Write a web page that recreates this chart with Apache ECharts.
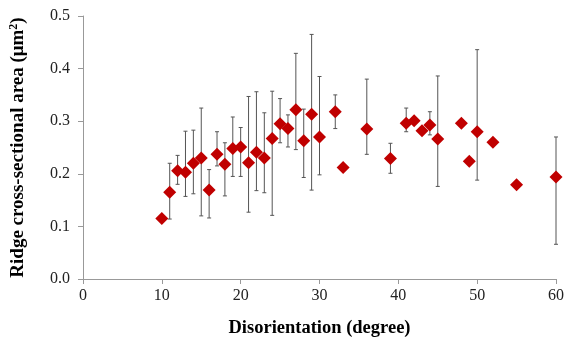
<!DOCTYPE html>
<html><head><meta charset="utf-8">
<script src="https://cdn.jsdelivr.net/npm/echarts@6/dist/echarts.min.js"></script>
<style>html,body{margin:0;padding:0;background:#fff}#c{width:567px;height:343px}</style>
</head><body><div id="c"></div>
<script>
const xVals = [10,11,12,13,14,15,16,17,18,19,20,21,22,23,24,25,26,27,28,29,30,32,33,36,39,41,42,43,44,45,48,49,50,52,55,60];
const yVals = [0.115,0.165,0.206,0.203,0.220,0.230,0.169,0.237,0.218,0.248,0.251,0.221,0.241,0.230,0.267,0.295,0.286,0.322,0.263,0.313,0.270,0.318,0.212,0.285,0.229,0.296,0.301,0.282,0.293,0.266,0.296,0.224,0.280,0.260,0.179,0.194];
// error bars: [x, low, high]
const errX =    [11,12,13,14,15,16,17,18,19,20,21,22,23,24,25,26,27,28,29,30,32,36,39,41,44,45,50,60];
const errLow =  [0.114,0.180,0.157,0.162,0.120,0.116,0.215,0.158,0.195,0.195,0.127,0.168,0.164,0.121,0.259,0.251,0.246,0.193,0.169,0.198,0.286,0.237,0.201,0.280,0.274,0.176,0.188,0.066];
const errHigh = [0.220,0.235,0.281,0.283,0.325,0.208,0.280,0.259,0.308,0.288,0.347,0.356,0.316,0.357,0.343,0.312,0.429,0.323,0.465,0.385,0.350,0.380,0.258,0.325,0.318,0.386,0.436,0.270];
const xTicks = [0,10,20,30,40,50,60];

const points = xVals.map((x,i)=>[x,yVals[i]]);
const errData = errX.map((x,i)=>[x,errLow[i],errHigh[i]]);

const chart = echarts.init(document.getElementById('c'));
const serif = '"Liberation Serif","Times New Roman",serif';
chart.setOption({
  animation:false,
  grid:{left:82,right:7,top:16,bottom:63},
  xAxis:{type:'value',min:0,max:60,interval:10,
    name:'Disorientation (degree)',nameLocation:'middle',nameGap:40,
    nameTextStyle:{fontFamily:serif,fontWeight:'bold',fontSize:18.5,color:'#000'},
    axisLine:{lineStyle:{color:'#999'}},
    axisTick:{show:true,length:5,lineStyle:{color:'#999'}},
    axisLabel:{fontFamily:serif,fontSize:16,color:'#222',margin:9},
    splitLine:{show:false}},
  yAxis:{type:'value',min:0,max:0.5,interval:0.1,
    name:'{a|Ridge cross-sectional area (μm}{s|2}{a|)}',nameLocation:'middle',nameGap:55,
    nameTextStyle:{rich:{a:{fontFamily:serif,fontWeight:'bold',fontSize:19,color:'#000'},
                         s:{fontFamily:serif,fontWeight:'bold',fontSize:12,color:'#000',verticalAlign:'top',padding:[0,0,8,0]}}},
    axisLine:{show:true,lineStyle:{color:'#999'}},
    axisTick:{show:true,length:5,lineStyle:{color:'#999'}},
    axisLabel:{fontFamily:serif,fontSize:16,color:'#222',margin:13,formatter:v=>v.toFixed(1)},
    splitLine:{show:false}},
  series:[
    {type:'custom',z:1,data:errData,
     renderItem:function(params,api){
       const x=api.value(0);
       const lo=api.coord([x,api.value(1)]);
       const hi=api.coord([x,api.value(2)]);
       const w=2;
       const st={stroke:'#555',lineWidth:1};
       return {type:'group',children:[
         {type:'line',shape:{x1:lo[0],y1:lo[1],x2:hi[0],y2:hi[1]},style:st},
         {type:'line',shape:{x1:lo[0]-w,y1:lo[1],x2:lo[0]+w,y2:lo[1]},style:st},
         {type:'line',shape:{x1:hi[0]-w,y1:hi[1],x2:hi[0]+w,y2:hi[1]},style:st}
       ]};
     }},
    {type:'scatter',z:2,data:points,symbol:'diamond',symbolSize:13,
     itemStyle:{color:'#c00000',opacity:1}}
  ]
});
</script></body></html>
